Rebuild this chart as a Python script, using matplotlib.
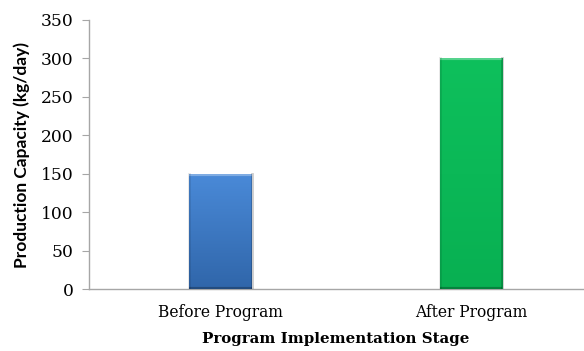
import numpy as np
import matplotlib
matplotlib.use("Agg")
import matplotlib.pyplot as plt
from matplotlib.colors import LinearSegmentedColormap

stages = ["Before Program", "After Program"]
capacity = [150, 300]
bar_colors = [("#4a8ad8", "#3066aa"), ("#0ec05c", "#08b052")]
yticks = [0, 50, 100, 150, 200, 250, 300, 350]

fig = plt.figure(figsize=(5.84, 3.51), dpi=100)
ax = fig.add_axes([89 / 584, 62 / 351, 494 / 584, 269 / 351])

x = np.arange(len(stages))
bars = ax.bar(x, capacity, width=0.25, color=[c[0] for c in bar_colors], zorder=2)

# fake the excel bevel with a vertical gradient clipped to each bar
for b, (top, bottom) in zip(bars, bar_colors):
    cmap = LinearSegmentedColormap.from_list("g", [bottom, top])
    x0, w, h = b.get_x(), b.get_width(), b.get_height()
    grad = np.linspace(0, 1, 100).reshape(-1, 1)
    im = ax.imshow(grad, cmap=cmap, origin="lower", aspect="auto",
                   extent=[x0, x0 + w, 0, h], zorder=3)
    im.set_clip_path(b)
    # edge shading
    ax.plot([x0, x0 + w], [h, h], color="white", alpha=0.3, lw=3, zorder=4, solid_capstyle="butt")
    ax.plot([x0, x0], [0, h], color="black", alpha=0.1, lw=2, zorder=4)
    ax.plot([x0 + w, x0 + w], [0, h], color="black", alpha=0.2, lw=2, zorder=4)
    ax.plot([x0, x0 + w], [0, 0], color="black", alpha=0.25, lw=3, zorder=4, solid_capstyle="butt")

ax.set_xlim(-0.525, 1.447)
ax.set_ylim(0, 350)
ax.set_yticks(yticks)
ax.set_xticks(x)
ax.set_xticklabels(stages, family="DejaVu Serif", fontsize=11.2)
for lab in ax.get_yticklabels():
    lab.set_family("DejaVu Serif")
    lab.set_fontsize(12.3)

for s in ["top", "right"]:
    ax.spines[s].set_visible(False)
for s in ["left", "bottom"]:
    ax.spines[s].set_color("#a6a6a6")
    ax.spines[s].set_linewidth(1)
ax.tick_params(axis="y", length=5, color="#a6a6a6", pad=6)
ax.tick_params(axis="x", length=0, pad=11)

ax.set_ylabel("Production Capacity (kg/day)", family="Lato", fontweight="bold", fontsize=12.5, labelpad=8)
ax.set_xlabel("Program Implementation Stage", family="DejaVu Serif", fontweight="bold", fontsize=10.8, labelpad=8)

fig.savefig("out.png", dpi=100)
